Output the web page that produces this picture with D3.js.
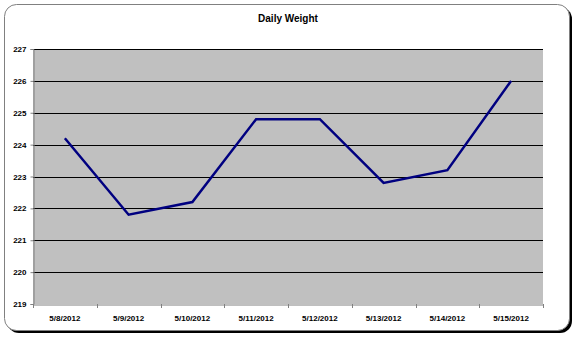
<!DOCTYPE html>
<html>
<head>
<meta charset="utf-8">
<script src="https://cdn.jsdelivr.net/npm/d3@7"></script>
<style>
  body { margin: 0; background: #fff; }
  svg { display: block; font-family: "Liberation Sans", Arial, sans-serif; }
</style>
</head>
<body>
<svg id="chart" width="575" height="337"></svg>
<script>
// data
var dates = ["5/8/2012", "5/9/2012", "5/10/2012", "5/11/2012", "5/12/2012", "5/13/2012", "5/14/2012", "5/15/2012"];
var weights = [224.2, 221.8, 222.2, 224.8, 224.8, 222.8, 223.2, 226.0];
var yTicks = [219, 220, 221, 222, 223, 224, 225, 226, 227];

var svg = d3.select("#chart");
var plot = { left: 33, top: 49, right: 543, bottom: 304 };

// outer frame with shadow
svg.append("rect")
    .attr("x", 7).attr("y", 7).attr("width", 565).attr("height", 326)
    .attr("rx", 12).attr("fill", "#000");
svg.append("rect")
    .attr("x", 4.5).attr("y", 4.5).attr("width", 565).attr("height", 326)
    .attr("rx", 12).attr("fill", "#fff").attr("stroke", "#808080").attr("stroke-width", 1);

svg.append("text")
    .attr("x", 288).attr("y", 22)
    .attr("text-anchor", "middle")
    .attr("font-size", 10).attr("font-weight", "bold")
    .text("Daily Weight");

var x = d3.scaleBand().domain(dates).range([plot.left, plot.right]);
var y = d3.scaleLinear().domain([219, 227]).range([plot.bottom, plot.top]);

svg.append("rect")
    .attr("x", plot.left).attr("y", plot.top)
    .attr("width", plot.right - plot.left).attr("height", plot.bottom - plot.top)
    .attr("fill", "#c0c0c0");

// gridlines
svg.append("g").selectAll("line")
    .data(yTicks.slice(1))
    .join("line")
    .attr("x1", plot.left).attr("x2", plot.right)
    .attr("y1", d => Math.round(y(d)) + 0.5).attr("y2", d => Math.round(y(d)) + 0.5)
    .attr("stroke", "#000").attr("stroke-width", 1);

// axes
var yAxis = svg.append("g")
    .attr("transform", "translate(" + (plot.left + 0.5) + ",0)")
    .call(d3.axisLeft(y).tickValues(yTicks).tickSize(3).tickPadding(4).tickFormat(d3.format("d")));
var xAxis = svg.append("g")
    .attr("transform", "translate(0," + (plot.bottom + 0.5) + ")")
    .call(d3.axisBottom(x).tickSize(0).tickPadding(11));

[yAxis, xAxis].forEach(function(g) {
  g.select(".domain").attr("stroke", "#808080");
  g.selectAll("line").attr("stroke", "#808080");
  g.selectAll("text").attr("font-size", 8).attr("font-weight", "bold")
      .attr("font-family", "'Liberation Sans', Arial, sans-serif").attr("fill", "#000");
});

// x tick marks at category boundaries
svg.append("g").selectAll("line")
    .data(dates.map(d => x(d)).concat([plot.right]))
    .join("line")
    .attr("x1", d => Math.round(d) + 0.5).attr("x2", d => Math.round(d) + 0.5)
    .attr("y1", plot.bottom).attr("y2", plot.bottom + 4)
    .attr("stroke", "#808080");

// line
var line = d3.line()
    .x((d, i) => x(dates[i]) + x.bandwidth() / 2)
    .y(d => y(d));
svg.append("path")
    .datum(weights)
    .attr("d", line)
    .attr("fill", "none")
    .attr("stroke", "#000080")
    .attr("stroke-width", 2.5)
    .attr("stroke-linejoin", "miter");
</script>
</body>
</html>
